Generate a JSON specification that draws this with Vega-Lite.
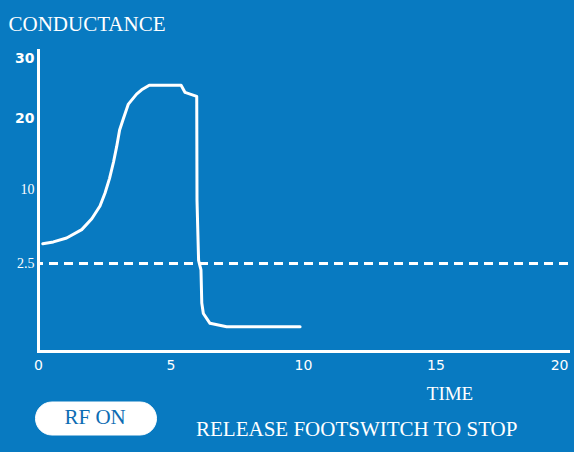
{
  "$schema": "https://vega.github.io/schema/vega-lite/v6.json",
  "width": 530,
  "height": 301,
  "autosize": {"type": "none"},
  "padding": {"left": 38, "top": 50, "right": 6, "bottom": 101},
  "background": "#087ac1",
  "config": {"view": {"stroke": null}, "font": "Liberation Serif"},
  "title": {
    "text": "RELEASE FOOTSWITCH TO STOP",
    "orient": "bottom",
    "anchor": "start",
    "frame": "group",
    "font": "Liberation Serif",
    "fontSize": 21,
    "fontWeight": "normal",
    "color": "white",
    "dx": 158,
    "dy": -16,
    "offset": 0
  },
  "data": {
    "values": [
      {"time": 0.18, "conductance": 4.48},
      {"time": 0.58, "conductance": 4.66},
      {"time": 1.08, "conductance": 5.06},
      {"time": 1.65, "conductance": 5.9},
      {"time": 2.03, "conductance": 7.0},
      {"time": 2.34, "conductance": 8.28},
      {"time": 2.53, "conductance": 9.6},
      {"time": 2.7, "conductance": 11.5},
      {"time": 2.85, "conductance": 13.8},
      {"time": 2.97, "conductance": 16.0},
      {"time": 3.08, "conductance": 18.3},
      {"time": 3.22, "conductance": 19.9},
      {"time": 3.41, "conductance": 22.33},
      {"time": 3.72, "conductance": 24.0},
      {"time": 3.91, "conductance": 24.72},
      {"time": 4.2, "conductance": 25.5},
      {"time": 5.4, "conductance": 25.5},
      {"time": 5.55, "conductance": 24.28},
      {"time": 5.74, "conductance": 24.0},
      {"time": 5.99, "conductance": 23.62},
      {"time": 6.0, "conductance": 8.88},
      {"time": 6.06, "conductance": 2.8},
      {"time": 6.15, "conductance": 2.31},
      {"time": 6.18, "conductance": 1.37},
      {"time": 6.24, "conductance": 1.07},
      {"time": 6.49, "conductance": 0.79},
      {"time": 7.12, "conductance": 0.69},
      {"time": 9.89, "conductance": 0.69}
    ]
  },
  "layer": [
    {
      "mark": {"type": "line", "strokeWidth": 3, "strokeJoin": "round", "strokeCap": "round"},
      "encoding": {
        "x": {
          "field": "time",
          "type": "quantitative",
          "scale": {"domain": [0, 20], "nice": false, "zero": false},
          "axis": {
            "values": [0, 5, 10, 15, 20],
            "ticks": false,
            "grid": false,
            "domainColor": "white",
            "domainWidth": 3,
            "domainCap": "square",
            "labelColor": "white",
            "labelFont": "DejaVu Sans",
            "labelFontSize": 14,
            "labelPadding": 7,
            "labelFlush": false,
            "labelAlign": {"condition": {"test": "datum.value == 20", "value": "right"}, "value": "center"},
            "title": "TIME",
            "titleX": 411.5,
            "titleY": 48,
            "titleAlign": "center",
            "titleBaseline": "alphabetic",
            "titleFont": "Liberation Serif",
            "titleFontSize": 19,
            "titleFontWeight": "normal",
            "titleColor": "white"
          }
        },
        "y": {
          "field": "conductance",
          "type": "quantitative",
          "scale": {
            "domain": [0, 2.5, 10, 20, 30, 31.4],
            "range": [301, 213.3, 139, 68, 8.3, 0],
            "nice": false,
            "zero": false
          },
          "axis": {
            "values": [2.5, 10, 20, 30],
            "format": "~g",
            "ticks": false,
            "grid": false,
            "domainColor": "white",
            "domainWidth": 3,
            "domainCap": "square",
            "labelColor": "white",
            "labelFont": {"condition": {"test": "datum.value >= 20", "value": "DejaVu Sans"}, "value": "Liberation Serif"},
            "labelFontWeight": {"condition": {"test": "datum.value >= 20", "value": "bold"}, "value": "normal"},
            "labelFontSize": 14,
            "labelPadding": 4,
            "title": "CONDUCTANCE",
            "titleAngle": 0,
            "titleX": -30,
            "titleY": -19.5,
            "titleAlign": "left",
            "titleBaseline": "alphabetic",
            "titleFont": "Liberation Serif",
            "titleFontSize": 21,
            "titleFontWeight": "normal",
            "titleColor": "white"
          }
        },
        "color": {
          "datum": "RF ON",
          "scale": {"range": ["white"]},
          "legend": {
            "orient": "none",
            "legendX": -3,
            "legendY": 351.5,
            "title": null,
            "fillColor": "white",
            "strokeColor": "white",
            "cornerRadius": 16.5,
            "padding": 6,
            "symbolOpacity": 0,
            "symbolStrokeWidth": 0,
            "symbolSize": 144,
            "symbolType": "M-1,-0.1L16.4,-0.1L16.4,0.1L-1,0.1Z",
            "labelOffset": 2.5,
            "labelFont": "Liberation Serif",
            "labelFontSize": 21,
            "labelColor": "#0c6cb3"
          }
        }
      }
    },
    {
      "mark": {"type": "rule", "strokeDash": [9, 6], "strokeWidth": 2.5, "color": "white"},
      "encoding": {"y": {"datum": 2.5}}
    }
  ]
}
